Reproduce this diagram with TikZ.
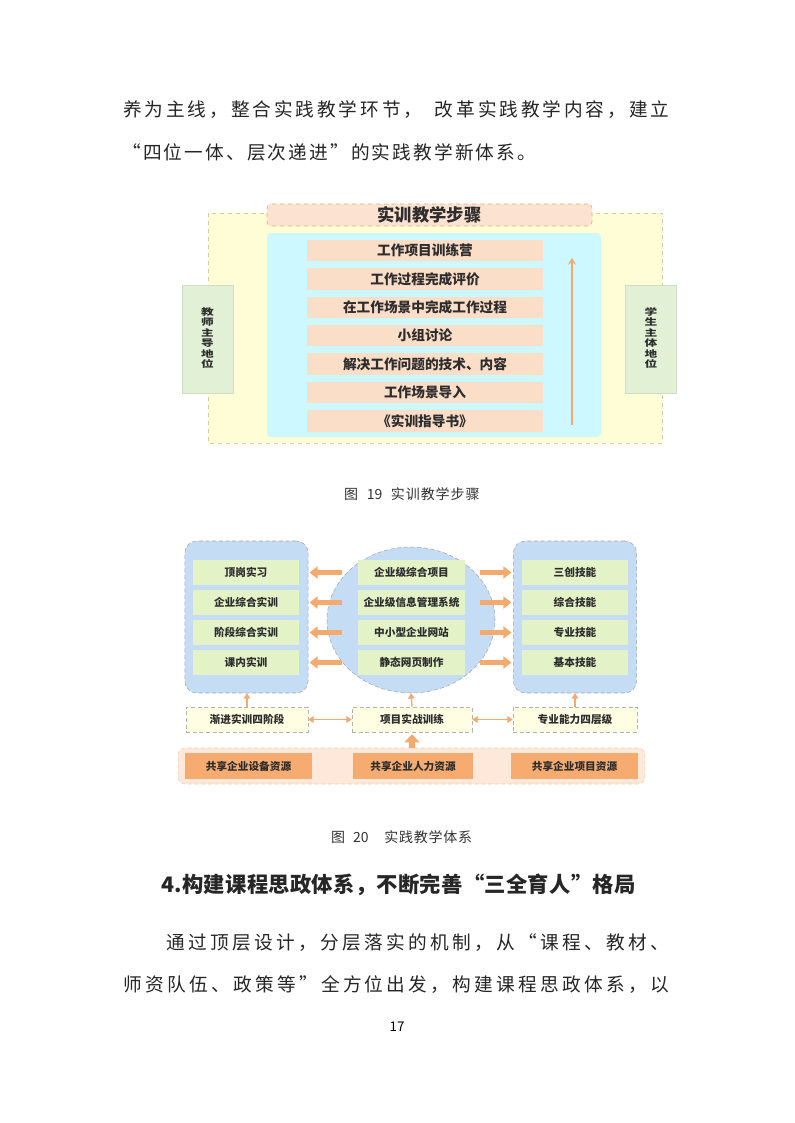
\documentclass[tikz,border=0pt]{standalone}
\usepackage{fontspec}
\usepackage{graphicx}
\setmainfont{Noto Sans CJK SC}
\usetikzlibrary{arrows.meta,shapes.geometric,positioning}

\definecolor{textgray}{RGB}{45,45,45}
\definecolor{yelfill}{RGB}{255,253,214}
\definecolor{yeldash}{RGB}{215,205,150}
\definecolor{peach}{RGB}{252,226,208}
\definecolor{peachdash}{RGB}{235,170,120}
\definecolor{cyanfill}{RGB}{206,248,255}
\definecolor{stepfill}{RGB}{251,222,200}
\definecolor{greenfill}{RGB}{226,240,214}
\definecolor{arrorange}{RGB}{244,170,110}
\definecolor{bluefill}{RGB}{196,220,244}
\definecolor{limefill}{RGB}{228,242,200}
\definecolor{boxorange}{RGB}{246,172,112}

\newcommand{\sz}[1]{\fontsize{#1}{#1}\selectfont}
% spread the characters of a line over a given width
\def\spreadtext#1{\spreadfirst#1\relax}
\def\spreadfirst#1{#1\spreadrest}
\def\spreadrest#1{\ifx\relax#1\else\hfil#1\expandafter\spreadrest\fi}
\def\gapsp{\hskip5pt}
\def\numA{\mbox{19}}
\def\numB{\mbox{20}}
\def\numC{\mbox{4.}}
\newcommand{\lineof}[2]{\makebox[#1]{\spreadtext{#2}}}
% squat vertical column of characters
\newcommand{\vcol}[1]{\scalebox{1}[0.72]{\begin{tabular}{@{}c@{}}#1\end{tabular}}}

\tikzset{
  txtline/.style={anchor=west, inner sep=0pt, text=black!85, font=\sz{14pt}},
  caption/.style={anchor=west, inner sep=0pt, text=black!80, font=\sz{10.5pt}},
  titlebox/.style={fill=peach, draw=peachdash, dashed, rounded corners=3pt, minimum width=243.75pt, minimum height=16.5pt, inner sep=0pt, font=\bfseries\sz{13pt}, text=textgray},
  stepbox/.style={fill=stepfill, minimum width=177pt, minimum height=16pt, inner sep=0pt, font=\bfseries\sz{10.25pt}, text=textgray},
  sidebox/.style={fill=greenfill, draw=greenfill!80!black!40!greenfill, minimum width=38pt, minimum height=81pt, inner sep=0pt, font=\bfseries\fontsize{9.5pt}{9.3pt}\selectfont, text=textgray},
  cell/.style={fill=limefill, minimum width=80pt, minimum height=18.75pt, inner sep=0pt, font=\bfseries\sz{8pt}, text=textgray},
  grpbox/.style={fill=bluefill, draw=gray!70, densely dashed, rounded corners=9pt, minimum width=92.5pt, minimum height=114pt},
  yelbox/.style={fill=yelfill!70!white, draw=gray!60, densely dashed, minimum height=18.75pt, inner sep=0pt, font=\bfseries\sz{8pt}, text=textgray},
  resbox/.style={fill=boxorange, minimum height=19.5pt, inner sep=0pt, font=\bfseries\sz{8pt}, text=textgray},
  fat/.style={draw=arrorange, line width=3.5pt, -{Triangle[width=9pt,length=6pt]}},
  uparr/.style={draw=arrorange, line width=1pt, -{Triangle[width=5pt,length=4pt]}},
  dblarr/.style={draw=arrorange, line width=1pt, {Triangle[width=5pt,length=4pt]}-{Triangle[width=5pt,length=4pt]}},
  bigup/.style={draw=arrorange, line width=4pt, -{Triangle[width=11pt,length=6pt]}},
  steparr/.style={draw=arrorange, line width=1.1pt, -{Stealth[width=6pt,length=5pt]}},
}

\begin{document}
\begin{tikzpicture}[x=0.75pt,y=-0.75pt]
\useasboundingbox[fill=white] (0,0) rectangle (794,1123);

% text above
\node[txtline] (p1) at (120,110) {\lineof{414pt}{养为主线，整合实践教学环节，\gapsp 改革实践教学内容，建立}};
\node[txtline] (p2) at (120,152) {\lineof{313.5pt}{“四位一体、层次递进”的实践教学新体系。}};

% Fig 19
\draw[yeldash, dashed, fill=yelfill] (208,213) rectangle (662,443);
\fill[cyanfill, rounded corners=3pt] (267,233) rectangle (601,437);
\node[titlebox] (ttl) at (429.5,215) {实训教学步骤};
\foreach \t [count=\i] in {工作项目训练营, 工作过程完成评价, 在工作场景中完成工作过程, 小组讨论, 解决工作问题的技术、内容, 工作场景导入, 《实训指导书》}
  \node[stepbox] (s\i) at (425,{250.5+28.4*(\i-1)}) {\t};
\coordinate (up0) at (572,425);
\coordinate (up1) at (572,258);
\draw[steparr] (up0) -- (up1);
\node[sidebox] (tch) at (207.5,339) {\vcol{教\\师\\主\\导\\地\\位}};
\node[sidebox] (stu) at (651,339) {\vcol{学\\生\\主\\体\\地\\位}};
\node[caption] (cap1) at (343,494) {\lineof{103pt}{图\gapsp\numA\gapsp 实训教学步骤}};

% Fig 20
\node[grpbox] (lg) at (246.5,617) {};
\node[grpbox] (rg) at (575,617) {};
\node[ellipse, fill=bluefill, draw=gray!70, densely dashed, minimum width=126pt, minimum height=109.5pt, inner sep=0pt] (eg) at (411,620) {};
\foreach \ta/\tb/\tc [count=\i] in {顶岗实习/企业级综合项目/三创技能, 企业综合实训/企业级信息管理系统/综合技能, 阶段综合实训/中小型企业网站/专业技能, 课内实训/静态网页制作/基本技能}{
  \node[cell] (l\i) at (246,{542.5+30*\i}) {\ta};
  \node[cell] (c\i) at (411.5,{542.5+30*\i}) {\tb};
  \node[cell] (r\i) at (575,{542.5+30*\i}) {\tc};
  \draw[fat, shorten <=12pt, shorten >=7.5pt] (c\i.west) -- (l\i.east);
  \draw[fat, shorten <=11pt, shorten >=7.5pt] (c\i.east) -- (r\i.west);
}
\node[yelbox, minimum width=91.5pt] (y1) at (247,719.5) {渐进实训四阶段};
\node[yelbox, minimum width=90pt] (y2) at (412,719.5) {项目实战训练};
\node[yelbox, minimum width=93pt] (y3) at (575,719.5) {专业能力四层级};
\draw[uparr] (y1.north) -- (y1.north |- lg.south);
\draw[uparr] (y2.north) -- (eg.south);
\draw[uparr] (y3.north) -- (y3.north |- rg.south);
\draw[dblarr] (y1) -- (y2);
\draw[dblarr] (y2) -- (y3);
\node[fill=peach!80!white, draw=peachdash!60, densely dashed, rounded corners=5pt, minimum width=350pt, minimum height=27pt] (res) at (411.5,766) {};
\node[resbox, minimum width=95pt] (e1) at (248.5,766) {共享企业设备资源};
\node[resbox, minimum width=90pt] (e2) at (413,766) {共享企业人力资源};
\node[resbox, minimum width=95pt] (e3) at (574.5,766) {共享企业项目资源};
\draw[bigup, shorten >=1.5pt] (res.north -| y2.south) -- (y2.south);
\node[caption] (cap2) at (330,837) {\lineof{107pt}{图\gapsp\numB\gapsp\gapsp 实践教学体系}};

% text below
\node[txtline, font=\bfseries\sz{16pt}] (hd) at (161,885) {\lineof{356pt}{\numC 构建课程思政体系，不断完善“三全育人”格局}};
\node[txtline] (q1) at (163,943) {\lineof{382pt}{通过顶层设计，分层落实的机制，从“课程、教材、}};
\node[txtline] (q2) at (120,985) {\lineof{414pt}{师资队伍、政策等”全方位出发，构建课程思政体系，以}};
\node[inner sep=0pt, font=\sz{10pt}] (pg) at (397,1027) {17};
\end{tikzpicture}
\end{document}
